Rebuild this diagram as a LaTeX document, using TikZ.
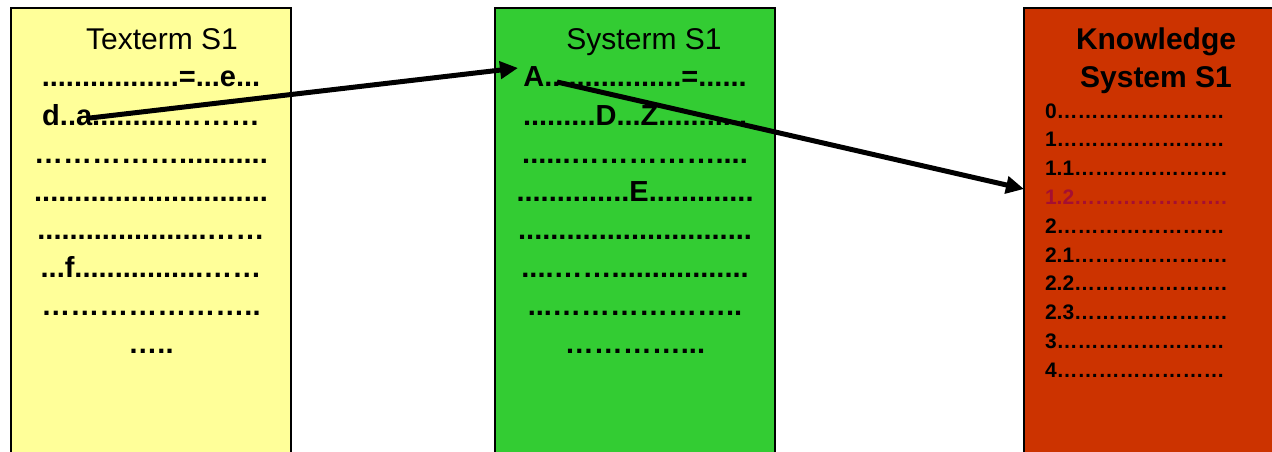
\documentclass[tikz,border=0pt]{standalone}
\usepackage{fontspec}
\setmainfont{Liberation Sans}
\usetikzlibrary{arrows.meta,positioning}
\definecolor{textyellow}{RGB}{255,255,153}
\definecolor{sysgreen}{RGB}{51,204,51}
\definecolor{knowred}{RGB}{204,51,0}
\definecolor{markred}{RGB}{165,15,50}
\tikzstyle{every node}+=[inner sep=0pt,outer sep=0pt]
\tikzstyle{panel}=[draw=black,line width=1.5pt,anchor=north west,minimum height=480pt]
\tikzstyle{title}=[anchor=base,font=\fontsize{30}{36}\selectfont]
\tikzstyle{row}=[anchor=base,font=\fontsize{29}{34}\selectfont\bfseries]
\tikzstyle{entry}=[anchor=base west,font=\fontsize{21}{25}\selectfont\bfseries]
\tikzstyle{link}=[line width=5pt,-{Triangle[length=18pt,width=17pt]}]
\newcommand{\droprows}[4][row]{
	\foreach \t [count=\i from 0] in {#4}{
		\node[#1] (#2\i) at (#3,{87+38.1*\i}) {\t};
	}
}
\newcommand{\ellrun}[1]{\foreach \k in {1,...,#1}{…}}

\begin{document}
\begin{tikzpicture}[x=1pt,y=-1pt]
\useasboundingbox (0,0) rectangle (1272,452);
\node[panel,fill=textyellow,minimum width=280pt] (tx) at (11,8) {};
\node[panel,fill=sysgreen,minimum width=280pt] (sy) at (495,8) {};
\node[panel,fill=knowred,minimum width=300pt] (ks) at (1024,8) {};

\node[title] (txtitle) at (162,50) {Texterm S1};
\node[title] (sytitle) at (644,50) {Systerm S1};
\node[title,font=\fontsize{30}{36}\selectfont\bfseries] (kstitle) at (1156,50) {Knowledge};
\node[title,font=\fontsize{30}{36}\selectfont\bfseries,below=38pt of kstitle.base,anchor=base] (kstitle2) {System S1};

\droprows{tr}{151}{{{.................=...e...}},{{d..a..........………}},{{……………...........}},{{.............................}},{{.....................……}},{{...f................……}},{{…………………..}},{{…..}}}
\droprows{sr}{635}{{{A.................=......}},{{.........D...Z...........}},{{......……………....}},{{..............E.............}},{{.............................}},{{....…….................}},{{...………………..}},{{…………...}}}

\foreach \n/\m [count=\i from 0] in {0/8,1/8,1.1/7,{\color{markred}1.2}/7,2/8,2.1/7,2.2/7,2.3/7,3/8,4/8}{
	\node[entry] (ke\i) at (1045,{118+28.8*\i}) {\n\ellrun{\m}\ifnum\m=7{.}\fi};
}

\coordinate (da) at (90,118);
\coordinate (sa) at (518,68);
\coordinate (sb) at (557,82);
\coordinate (k12) at (1024,189);
\draw[link] (da) -- (sa);
\draw[link] (sb) -- (k12);
\end{tikzpicture}
\end{document}
